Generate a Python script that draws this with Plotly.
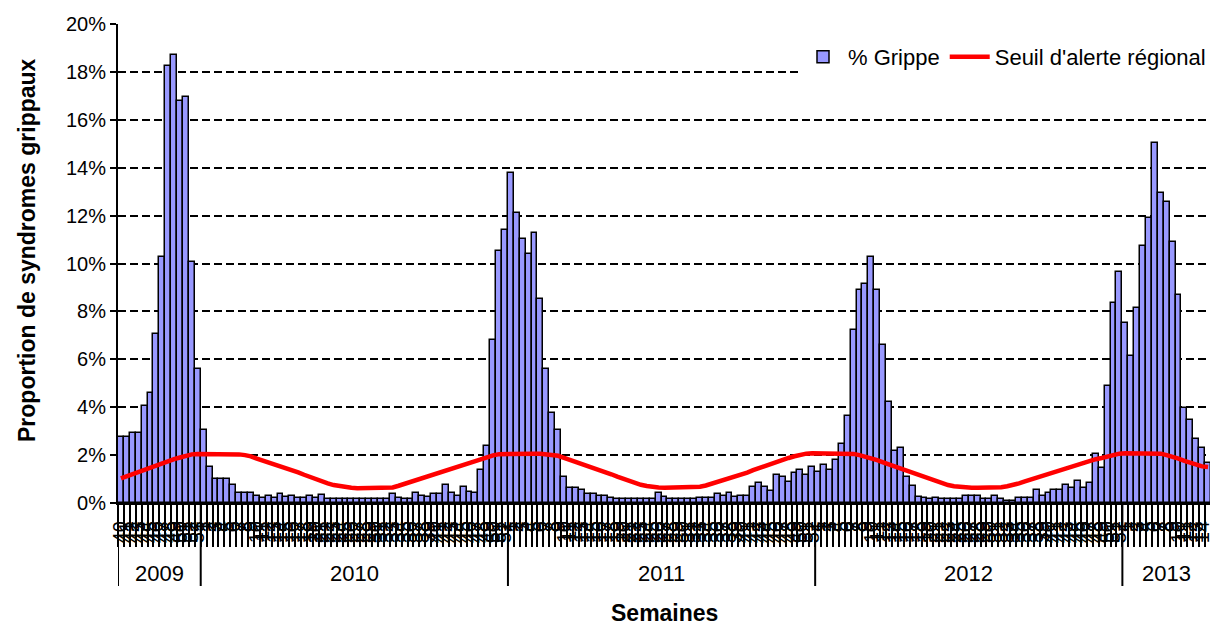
import plotly.graph_objects as go

# ---------------- data ----------------
annees = ["2009", "2010", "2011", "2012", "2013"]

semaines_2009 = list(range(40, 54))
semaines_2010 = list(range(1, 53))
semaines_2011 = list(range(1, 53))
semaines_2012 = list(range(1, 53))
semaines_2013 = list(range(1, 16))

grippe_2009 = [2.77, 2.77, 2.94, 2.94, 4.03, 4.59, 7.07, 10.28, 18.23, 18.72,
               16.79, 16.97, 10.08, 5.59]
grippe_2010 = [3.03, 1.49, 0.99, 0.99, 0.99, 0.74, 0.4, 0.4, 0.4, 0.29,
               0.2, 0.29, 0.2, 0.38, 0.24, 0.29, 0.2, 0.2, 0.29, 0.2,
               0.33, 0.15, 0.15, 0.15, 0.15, 0.15, 0.15, 0.15, 0.15, 0.15,
               0.15, 0.15, 0.38, 0.2, 0.15, 0.15, 0.4, 0.29, 0.24, 0.38,
               0.38, 0.75, 0.4, 0.29, 0.66, 0.47, 0.4, 1.38, 2.4, 6.79,
               10.54, 11.38]
grippe_2011 = [13.77, 12.12, 11.03, 10.38, 11.28, 8.52, 5.59, 3.75, 3.03, 1.1,
               0.64, 0.64, 0.54, 0.38, 0.38, 0.3, 0.3, 0.2, 0.15, 0.15,
               0.15, 0.15, 0.15, 0.15, 0.15, 0.4, 0.24, 0.15, 0.15, 0.15,
               0.15, 0.15, 0.2, 0.2, 0.2, 0.38, 0.29, 0.4, 0.24, 0.29,
               0.29, 0.66, 0.84, 0.66, 0.5, 1.17, 1.07, 0.89, 1.27, 1.38,
               1.17, 1.5]
grippe_2012 = [1.3, 1.6, 1.38, 1.8, 2.47, 3.65, 7.24, 8.88, 9.16, 10.28,
               8.88, 6.6, 4.21, 2.19, 2.29, 1.1, 0.71, 0.26, 0.2, 0.15,
               0.2, 0.15, 0.15, 0.15, 0.15, 0.29, 0.29, 0.29, 0.15, 0.15,
               0.29, 0.15, 0.1, 0.1, 0.2, 0.2, 0.2, 0.54, 0.29, 0.4,
               0.54, 0.54, 0.75, 0.61, 0.93, 0.61, 0.82, 2.05, 1.45, 4.87,
               8.36, 9.64]
grippe_2013 = [7.52, 6.15, 8.15, 10.72, 11.91, 15.05, 12.93, 12.57, 10.91, 8.7,
               3.96, 3.47, 2.66, 2.29, 1.66]

seuil_2009 = [1.03, 1.12, 1.22, 1.32, 1.4, 1.5, 1.6, 1.68, 1.75, 1.83,
              1.9, 1.97, 2.03, 2.05]
seuil_2010 = [2.05, 2.05, 2.05, 2.05, 2.05, 2.05, 2.03, 2.0, 1.95, 1.85,
              1.77, 1.7, 1.62, 1.55, 1.47, 1.38, 1.28, 1.18, 1.08, 1.0,
              0.92, 0.82, 0.75, 0.7, 0.66, 0.64, 0.62, 0.62, 0.62, 0.62,
              0.62, 0.62, 0.65, 0.72, 0.8, 0.88, 0.96, 1.04, 1.1, 1.17,
              1.27, 1.36, 1.45, 1.53, 1.62, 1.7, 1.78, 1.86, 1.93, 1.99,
              2.04, 2.05]
seuil_2011 = [2.06, 2.06, 2.06, 2.06, 2.06, 2.06, 2.04, 2.01, 1.97, 1.88,
              1.8, 1.73, 1.64, 1.55, 1.47, 1.39, 1.3, 1.2, 1.1, 1.01,
              0.93, 0.84, 0.76, 0.71, 0.67, 0.65, 0.64, 0.64, 0.64, 0.64,
              0.64, 0.65, 0.68, 0.73, 0.8, 0.88, 0.95, 1.03, 1.1, 1.17,
              1.27, 1.37, 1.46, 1.55, 1.64, 1.72, 1.8, 1.88, 1.95, 2.01,
              2.06, 2.08]
seuil_2012 = [2.08, 2.08, 2.08, 2.08, 2.08, 2.08, 2.05, 2.0, 1.94, 1.85,
              1.79, 1.7, 1.61, 1.53, 1.46, 1.37, 1.27, 1.18, 1.08, 1.0,
              0.91, 0.82, 0.75, 0.7, 0.67, 0.65, 0.64, 0.64, 0.64, 0.64,
              0.64, 0.66, 0.7, 0.75, 0.82, 0.9, 0.98, 1.05, 1.1, 1.18,
              1.27, 1.36, 1.43, 1.52, 1.61, 1.69, 1.76, 1.83, 1.88, 1.95,
              2.01, 2.06]
seuil_2013 = [2.08, 2.08, 2.08, 2.08, 2.08, 2.08, 2.06, 2.0, 1.94, 1.85,
              1.76, 1.67, 1.6, 1.53, 1.5]

# ---------------- assembly ----------------
groupes = [
    (annees[0], semaines_2009, grippe_2009, seuil_2009),
    (annees[1], semaines_2010, grippe_2010, seuil_2010),
    (annees[2], semaines_2011, grippe_2011, seuil_2011),
    (annees[3], semaines_2012, grippe_2012, seuil_2012),
    (annees[4], semaines_2013, grippe_2013, seuil_2013),
]

semaines, grippe, seuil, bornes, centres = [], [], [], [-0.5], []
for an, sem, g, s in groupes:
    debut = len(semaines)
    semaines += sem
    grippe += g
    seuil += s
    fin = len(semaines)
    bornes.append(fin - 0.5)
    centres.append((an, (debut + fin - 1) / 2))

n = len(grippe)
x = list(range(n))

FONT = "Liberation Sans, Arial, sans-serif"
# the page body has an 8px default margin: the figure is sized to fit the window
FIG_W, FIG_H = 1210, 618
M_L, M_R, M_T, M_B = 110, 7, 16, 123
PLOT_W = FIG_W - M_L - M_R
PLOT_H = FIG_H - M_T - M_B

fig = go.Figure()
fig.add_trace(go.Bar(
    x=x, y=grippe, name="% Grippe",
    marker=dict(color="#9999FF", line=dict(color="black", width=1.5)),
))
fig.add_trace(go.Scatter(
    x=x, y=seuil, mode="lines", name="Seuil d'alerte régional",
    line=dict(color="#FF0000", width=4.5),
))

fig.update_layout(
    width=FIG_W, height=FIG_H,
    margin=dict(l=M_L, r=M_R, t=M_T, b=M_B, autoexpand=False),
    plot_bgcolor="white", paper_bgcolor="white",
    bargap=0,
    font=dict(family=FONT, size=20, color="black"),
    legend=dict(orientation="h", x=1, xanchor="right", y=1 - 33 / PLOT_H,
                yanchor="middle", bgcolor="white", font=dict(size=22),
                itemwidth=40),
)

fig.update_xaxes(
    automargin=False,
    range=[-0.5, n - 0.5],
    tickmode="array", tickvals=x, ticktext=[str(w) for w in semaines],
    tickangle=-90, ticks="", ticklabelstandoff=8,
    tickfont=dict(size=20),
    showline=True, linecolor="black", linewidth=2,
    showgrid=False, zeroline=False,
    minor=dict(tickmode="array", tickvals=[i - 0.5 for i in range(n + 1)],
               ticks="outside", ticklen=42, tickwidth=1.5, tickcolor="black",
               showgrid=False),
)

fig.update_yaxes(
    automargin=False,
    range=[0, 20],
    tickmode="array", tickvals=list(range(0, 21, 2)),
    ticktext=[f"{v}%" for v in range(0, 21, 2)],
    ticks="outside", ticklen=6, tickwidth=2, tickcolor="black",
    tickfont=dict(size=20),
    showline=True, linecolor="black", linewidth=2,
    showgrid=True, gridcolor="black", gridwidth=1.5, griddash="8px,4px",
    zeroline=False,
)

# year separators and labels (second level of the category axis)
for b in bornes:
    fig.add_shape(type="line", xref="x", yref="paper", x0=b, x1=b,
                  y0=0, y1=-83 / PLOT_H, line=dict(color="black", width=2))
for an, c in centres:
    fig.add_annotation(text=an, xref="x", yref="paper", x=c, y=-70 / PLOT_H,
                       showarrow=False, font=dict(size=22), yanchor="middle")

fig.add_annotation(text="<b>Semaines</b>", xref="paper", yref="paper",
                   x=(664 - 118) / PLOT_W, y=-110 / PLOT_H, showarrow=False,
                   font=dict(size=23), yanchor="middle")
fig.add_annotation(text="<b>Proportion de syndromes grippaux</b>", xref="paper",
                   yref="paper", x=-91 / PLOT_W, y=(503 - 250) / PLOT_H,
                   textangle=-90, showarrow=False, font=dict(size=23),
                   xanchor="center", yanchor="middle")

fig.write_html("out.html")
